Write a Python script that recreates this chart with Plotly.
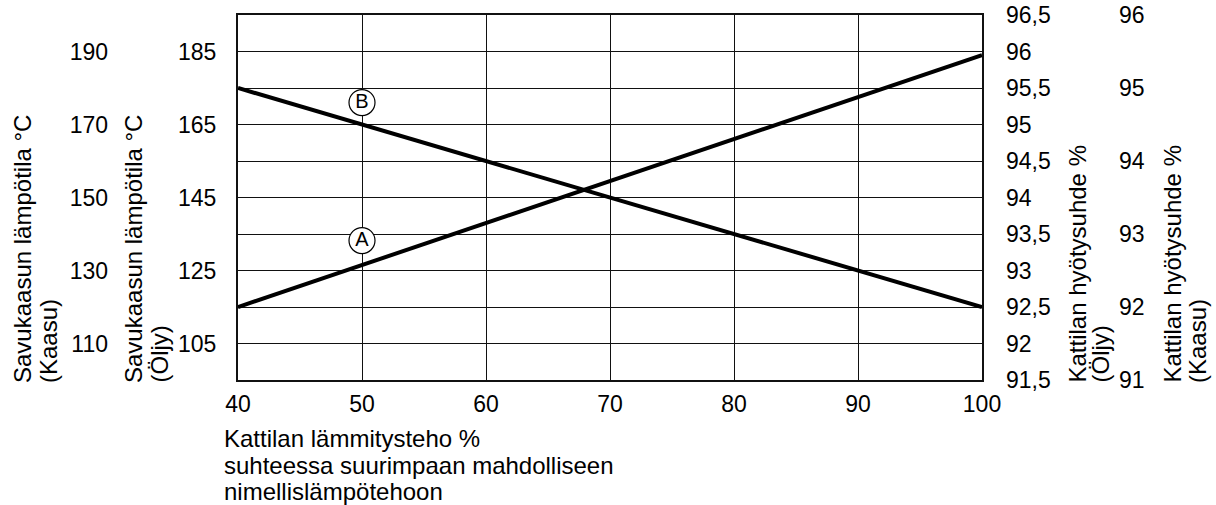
import plotly.graph_objects as go

# ---- data ----
load_pct = [40, 100]                     # x: Kattilan lämmitysteho %
curve_a_oil_temp = [115, 184]            # curve A (rising), read on oil flue-gas scale
curve_b_oil_temp = [175, 115]            # curve B (falling), read on oil flue-gas scale
label_names = ["B", "A"]
label_x = [50, 50]
label_y = [171.0, 133.2]                 # on oil flue-gas scale

x_ticks = [40, 50, 60, 70, 80, 90, 100]
oil_temp_ticks = [105, 125, 145, 165, 185]
gas_temp_ticks = [110, 130, 150, 170, 190]
oil_eff_ticks = [91.5, 92, 92.5, 93, 93.5, 94, 94.5, 95, 95.5, 96, 96.5]
oil_eff_text = ["91,5", "92", "92,5", "93", "93,5", "94", "94,5", "95", "95,5", "96", "96,5"]
gas_eff_ticks = [91, 92, 93, 94, 95, 96]
gas_eff_text = ["91", "92", "93", "94", "95", "96"]

x_title_lines = ["Kattilan lämmitysteho %", "suhteessa suurimpaan mahdolliseen", "nimellislämpötehoon"]

W, H = 1216, 505
L, R = 238, 982
TOP, BOT = 15, 380
PH = BOT - TOP
FONT = "Liberation Sans, Arial, sans-serif"
FS = 23
TFS = 24

fig = go.Figure()
fig.add_trace(go.Scatter(x=load_pct, y=curve_a_oil_temp, mode="lines",
                         line=dict(color="black", width=4), yaxis="y", showlegend=False))
fig.add_trace(go.Scatter(x=load_pct, y=curve_b_oil_temp, mode="lines",
                         line=dict(color="black", width=4), yaxis="y", showlegend=False))
fig.add_trace(go.Scatter(x=label_x, y=label_y, mode="markers+text", text=label_names,
                         textposition="middle center",
                         textfont=dict(family=FONT, size=20, color="black"),
                         marker=dict(symbol="circle", size=26, color="white",
                                     line=dict(color="black", width=1.2)),
                         yaxis="y", showlegend=False, cliponaxis=False, hoverinfo="skip"))

# invisible carriers so that the overlaying scales are drawn
for ax, ticks in (("y2", gas_temp_ticks), ("y3", oil_eff_ticks), ("y4", gas_eff_ticks)):
    fig.add_trace(go.Scatter(x=[load_pct[0]] * len(ticks), y=ticks, mode="markers",
                             marker=dict(opacity=0, size=1), yaxis=ax,
                             showlegend=False, hoverinfo="skip"))

common = dict(showline=False, zeroline=False, ticks="", automargin=False,
              tickfont=dict(family=FONT, size=FS, color="black"))

fig.update_layout(
    width=W, height=H,
    margin=dict(l=0, r=0, t=TOP, b=H - BOT, autoexpand=False),
    paper_bgcolor="white", plot_bgcolor="white",
    font=dict(family=FONT, size=FS, color="black"),
    xaxis=dict(domain=[L / W, R / W], range=[40, 100], tickvals=x_ticks,
               showgrid=True, gridcolor="#111", gridwidth=1,
               showline=True, linecolor="#111", linewidth=2, mirror=True,
               zeroline=False, ticks="", ticklabelstandoff=2, automargin=False,
               tickfont=dict(family=FONT, size=FS, color="black")),
    yaxis=dict(range=[95, 195], tickvals=oil_temp_ticks, anchor="x", side="left",
               showgrid=False, ticklabelstandoff=15, automargin=False,
               showline=True, linecolor="#111", linewidth=2, mirror=True,
               zeroline=False, ticks="", tickfont=dict(family=FONT, size=FS, color="black")),
    yaxis2=dict(range=[100, 200], tickvals=gas_temp_ticks, overlaying="y", anchor="free",
                position=110 / W, side="left", showgrid=False, ticklabelstandoff=2, **common),
    yaxis3=dict(range=[91.5, 96.5], tickvals=oil_eff_ticks, ticktext=oil_eff_text,
                overlaying="y", anchor="x", side="right", showgrid=True,
                gridcolor="#111", gridwidth=1, ticklabelstandoff=23, **common),
    yaxis4=dict(range=[91, 96], tickvals=gas_eff_ticks, ticktext=gas_eff_text,
                overlaying="y", anchor="free", position=1116 / W, side="right",
                showgrid=False, ticklabelstandoff=2, **common),
)


def vline_text(text, x_center):
    fig.add_annotation(text=text, xref="paper", yref="paper", x=x_center / W, y=-5 / PH,
                       xanchor="center", yanchor="bottom", textangle=-90,
                       showarrow=False, font=dict(family=FONT, size=TFS, color="black"))


vline_text("Savukaasun lämpötila °C", 22)
vline_text("(Kaasu)", 48)
vline_text("Savukaasun lämpötila °C", 133)
vline_text("(Öljy)", 159)
vline_text("Kattilan hyötysuhde %", 1077)
vline_text("(Öljy)", 1100)
vline_text("Kattilan hyötysuhde %", 1172)
vline_text("(Kaasu)", 1197)

for line, yc in zip(x_title_lines, (438, 465, 491)):
    fig.add_annotation(text=line, xref="paper", yref="paper", x=222 / W, y=-(yc - BOT) / PH,
                       xanchor="left", yanchor="middle", align="left", showarrow=False,
                       font=dict(family=FONT, size=TFS, color="black"))

fig.write_html("out.html", config={"displayModeBar": False},
               post_script="document.body.style.margin='0';document.body.style.overflow='hidden';")
